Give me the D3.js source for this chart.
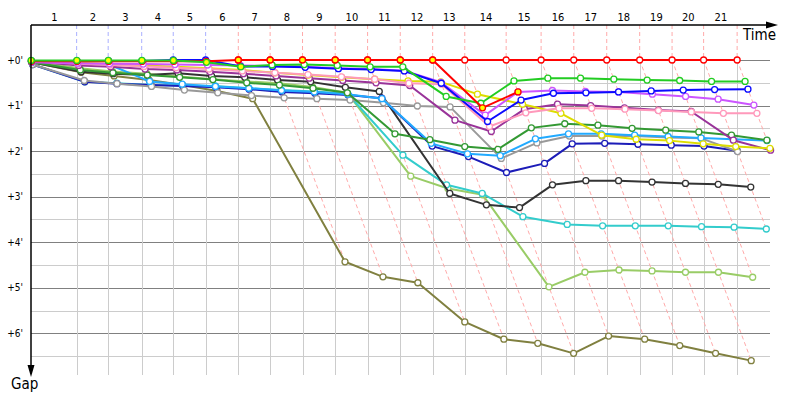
<!DOCTYPE html>
<html>
<head>
<meta charset="utf-8">
<script src="https://cdn.jsdelivr.net/npm/d3@7"></script>
<style>
  body { margin: 0; background: #fff; }
  text { font-family: Tahoma, "DejaVu Sans Condensed", "DejaVu Sans", sans-serif; }
</style>
</head>
<body>
<svg id="chart" width="800" height="400"></svg>
<script>
// leader lap times, seconds (laps 1..21)
var leaderLapSec = [162, 112, 119, 112, 115, 116, 113, 115, 116, 115, 116, 115, 114, 147, 124, 116, 117, 117, 115, 112, 119];
var lapLabels = d3.range(1, 22);
// who led each lap (1..21) -> colour of the dashed lap marks
var lapLeader = ['blue', 'blue', 'blue', 'blue', 'blue', 'red', 'red', 'red', 'red', 'red', 'red', 'red', 'red', 'red', 'red', 'red', 'red', 'red', 'red', 'red', 'red'];
var gapTicks = [0, 1, 2, 3, 4, 5, 6];

// gap to leader in minutes, laps 0..21 (null = no lap)
var gapRedA      = [0.03, 0.03, 0.03, 0.03, 0.03, 0.03, 0, 0, 0, 0, 0, 0, 0, 0, 0, 0, 0, 0, 0, 0, 0, 0];
var gapRedB      = [null, null, null, null, null, null, 0, 0, 0, 0, 0, 0, 0, 1.05, 0.70, null, null, null, null, null, null, null];
var gapGreen     = [0.01, 0.01, 0.01, 0.01, 0.01, 0.05, 0.15, 0.11, 0.10, 0.12, 0.15, 0.15, 0.80, 0.95, 0.46, 0.40, 0.40, 0.42, 0.44, 0.45, 0.47, 0.47];
var gapBlue      = [0.02, 0.02, 0.02, 0.02, 0, 0, 0.14, 0.14, 0.16, 0.19, 0.21, 0.24, 0.51, 1.35, 0.88, 0.73, 0.72, 0.70, 0.68, 0.66, 0.65, 0.64];
var gapViolet    = [0.05, 0.07, 0.08, 0.09, 0.10, 0.11, 0.12, 0.13, 0.15, 0.18, 0.20, 0.235, 0.49, 1.21, 0.70, 0.67, 0.69, 0.70, 0.75, 0.80, 0.86, 0.99];
var gapPink      = [0.03, 0.08, 0.11, 0.14, 0.17, 0.20, 0.24, 0.28, 0.32, 0.37, 0.42, 0.51, 0.53, 1.46, 1.16, 1.06, 1.06, 1.08, 1.11, 1.14, 1.17, 1.17];
var gapPurple    = [0.03, 0.12, 0.15, 0.20, 0.22, 0.26, 0.30, 0.35, 0.40, 0.45, 0.50, 0.56, 1.32, 1.57, 1.08, 0.97, 1.00, 1.05, 1.10, 1.13, 1.76, 1.98];
var gapYellow    = [0.02, 0.06, 0.09, 0.12, 0.15, 0.18, 0.22, 0.28, 0.33, 0.38, 0.42, 0.46, 0.48, 0.75, 0.97, 1.17, 1.65, 1.74, 1.77, 1.84, 1.90, 1.94];
var gapDarkGreen = [0.05, 0.22, 0.28, 0.33, 0.38, 0.43, 0.50, 0.55, 0.62, 0.72, 1.62, 1.75, 1.90, 1.96, 1.49, 1.40, 1.43, 1.50, 1.54, 1.58, 1.65, 1.76];
var gapLightBlue = [0.05, 0.08, 0.11, 0.47, 0.53, 0.58, 0.62, 0.67, 0.70, 0.75, 0.85, 1.83, 2.06, 2.10, 1.73, 1.62, 1.62, 1.65, 1.68, 1.71, 1.74, 1.77];
var gapGray      = [0.10, 0.45, 0.52, 0.58, 0.66, 0.72, 0.78, 0.83, 0.85, 0.88, 0.94, 1.01, 1.03, 2.16, 1.82, 1.67, 1.67, 1.67, 1.70, 1.72, 2.01, null];
var gapNavy      = [0.10, 0.48, 0.52, 0.55, 0.57, 0.60, 0.64, 0.70, 0.73, 0.77, 0.84, 1.89, 2.12, 2.47, 2.27, 1.84, 1.83, 1.85, 1.87, 1.89, 1.99, null];
var gapBlack     = [0.05, 0.26, 0.30, 0.33, 0.29, 0.35, 0.38, 0.44, 0.48, 0.60, 0.69, 2.93, 3.18, 3.24, 2.74, 2.65, 2.65, 2.68, 2.71, 2.73, 2.79, null];
var gapCyan      = [0.10, 0.48, 0.51, 0.55, 0.56, 0.57, 0.62, 0.66, 0.69, 0.74, 2.09, 2.74, 2.93, 3.44, 3.61, 3.64, 3.64, 3.64, 3.66, 3.67, 3.71, null];
var gapLightGreen= [0.03, 0.18, 0.25, 0.30, 0.36, 0.42, 0.47, 0.51, 0.59, 0.72, 2.55, 2.82, 2.96, 4.98, 4.66, 4.61, 4.63, 4.66, 4.66, 4.77, null, null];
var gapOlive     = [0.05, 0.27, 0.35, 0.44, 0.55, 0.68, 0.85, 4.43, 4.76, 4.89, 5.75, 6.13, 6.22, 6.44, 6.06, 6.13, 6.27, 6.44, 6.60, null, null, null];

// marked (yellow) points: [series, lap]
var marked = [['green', 0], ['green', 1], ['green', 2], ['green', 3], ['green', 4], ['green', 5], ['green', 6],
  ['navy', 1],
  ['redB', 6], ['redB', 7], ['redB', 8], ['redB', 9], ['redB', 10], ['redB', 11], ['redB', 12], ['redB', 13], ['redB', 14]];

var colors = {
  redA: '#ff0000', redB: '#ff0000', green: '#22cc22', blue: '#0a0aff', violet: '#cc55ff', pink: '#ff99bb',
  purple: '#993399', yellow: '#dddd00', darkGreen: '#339933', lightBlue: '#22aaff', gray: '#999999',
  navy: '#1c1cb8', black: '#333333', cyan: '#33cccc', lightGreen: '#99cc66', olive: '#808040'
};
var pale = { blue: '#aab0ff', red: '#ffaaaa' };

// draw order: first is at the bottom
var series = [
  { key: 'olive', gaps: gapOlive }, { key: 'lightGreen', gaps: gapLightGreen }, { key: 'cyan', gaps: gapCyan },
  { key: 'black', gaps: gapBlack }, { key: 'navy', gaps: gapNavy }, { key: 'gray', gaps: gapGray },
  { key: 'lightBlue', gaps: gapLightBlue }, { key: 'darkGreen', gaps: gapDarkGreen }, { key: 'purple', gaps: gapPurple },
  { key: 'yellow', gaps: gapYellow }, { key: 'pink', gaps: gapPink }, { key: 'violet', gaps: gapViolet },
  { key: 'blue', gaps: gapBlue }, { key: 'redA', gaps: gapRedA }, { key: 'green', gaps: gapGreen }, { key: 'redB', gaps: gapRedB }
];

// cumulative leader time (minutes) at each lap
var cum = [0];
leaderLapSec.forEach(function(s, i) { cum.push(cum[i] + s / 60); });

var svg = d3.select('#chart');
var x0 = 31, xEnd = 778, yAxisTop = 25, yZero = 60, yEnd = 377;
var x = d3.scaleLinear().domain([0, (xEnd - x0) / 16.9]).range([x0, xEnd]);
var y = d3.scaleLinear().domain([0, (yEnd - yZero) / 45.55]).range([yZero, yEnd]);

var gridRight = x.invert(770), gridBottom = y.invert(375);

// horizontal grid
var grid = svg.append('g');
grid.selectAll('line.h').data(d3.range(0, 7, 0.5)).enter().append('line')
  .attr('x1', x0).attr('x2', x(gridRight))
  .attr('y1', function(d) { return Math.round(y(d)) + 0.5; })
  .attr('y2', function(d) { return Math.round(y(d)) + 0.5; })
  .attr('stroke', function(d) { return d % 1 === 0 ? '#808080' : '#cccccc'; })
  .attr('stroke-width', 1);

// vertical grid at each leader lap
grid.selectAll('line.v').data(d3.range(1, 22)).enter().append('line')
  .attr('x1', function(k) { return Math.round(x(cum[k])) + 0.5; })
  .attr('x2', function(k) { return Math.round(x(cum[k])) + 0.5; })
  .attr('y1', y(0)).attr('y2', y(gridBottom))
  .attr('stroke', '#cccccc').attr('stroke-width', 1);

// dashed lap marks: vertical above zero line, slanted through every car of that lap
var maxGap = cum.map(function(c, k) {
  return d3.max(series, function(s) { return s.gaps[k]; });
});
var dashes = svg.append('g');
dashes.selectAll('line.vd').data(d3.range(1, 22)).enter().append('line')
  .attr('x1', function(k) { return x(cum[k]); }).attr('x2', function(k) { return x(cum[k]); })
  .attr('y1', yAxisTop).attr('y2', y(0))
  .attr('stroke', function(k) { return pale[lapLeader[k - 1]]; })
  .attr('stroke-width', 1).attr('stroke-dasharray', '4,3');
dashes.selectAll('line.sd').data(d3.range(1, 22)).enter().append('line')
  .attr('x1', function(k) { return x(cum[k]); }).attr('y1', y(0))
  .attr('x2', function(k) { return x(cum[k] + maxGap[k]); })
  .attr('y2', function(k) { return y(maxGap[k]); })
  .attr('stroke', function(k) { return pale[lapLeader[k - 1]]; })
  .attr('stroke-width', 1).attr('stroke-dasharray', '4,3');

// cars
var line = d3.line()
  .defined(function(d) { return d.gap !== null; })
  .x(function(d) { return x(cum[d.lap] + d.gap); })
  .y(function(d) { return y(d.gap); });

var isMarked = {};
marked.forEach(function(m) { isMarked[m[0] + '_' + m[1]] = true; });

series.forEach(function(s) {
  var pts = s.gaps.map(function(g, k) { return { lap: k, gap: g }; });
  var g = svg.append('g');
  g.append('path').datum(pts)
    .attr('d', line)
    .attr('fill', 'none')
    .attr('stroke', colors[s.key])
    .attr('stroke-width', 2)
    .attr('stroke-linejoin', 'round');
  g.selectAll('circle').data(pts.filter(function(p) { return p.gap !== null; })).enter()
    .append('circle')
    .attr('cx', function(d) { return x(cum[d.lap] + d.gap); })
    .attr('cy', function(d) { return y(d.gap); })
    .attr('r', 3)
    .attr('fill', function(d) { return isMarked[s.key + '_' + d.lap] ? '#ffff00' : '#ffffff'; })
    .attr('stroke', colors[s.key])
    .attr('stroke-width', 1.3);
});

// lap numbers between leader crossings
var lapMid = lapLabels.map(function(n) { return (cum[n - 1] + cum[n]) / 2; });
var topAxis = svg.append('g').attr('transform', 'translate(0,' + yAxisTop + ')')
  .call(d3.axisTop(x).tickValues(lapMid).tickSize(0).tickPadding(4)
    .tickFormat(function(d, i) { return lapLabels[i]; }));
topAxis.select('.domain').remove();
topAxis.selectAll('text').attr('font-size', 11).attr('fill', '#000')
  .style('font-family', 'Tahoma, "DejaVu Sans Condensed", "DejaVu Sans", sans-serif');

// gap labels
var leftAxis = svg.append('g').attr('transform', 'translate(' + x0 + ',0)')
  .call(d3.axisLeft(y).tickValues(gapTicks).tickSize(0).tickPadding(8)
    .tickFormat(function(d) { return '+' + d + "'"; }));
leftAxis.select('.domain').remove();
leftAxis.selectAll('text').attr('font-size', 10).attr('fill', '#000')
  .style('font-family', 'Tahoma, "DejaVu Sans Condensed", "DejaVu Sans", sans-serif');

// axis lines with arrows
var axes = svg.append('g');
axes.append('line').attr('x1', x0).attr('y1', yAxisTop).attr('x2', xEnd - 10).attr('y2', yAxisTop)
  .attr('stroke', '#000').attr('stroke-width', 1.5);
axes.append('path').attr('d', 'M' + xEnd + ',' + yAxisTop + 'L' + (xEnd - 12) + ',' + (yAxisTop - 3.5) + 'L' + (xEnd - 12) + ',' + (yAxisTop + 3.5) + 'Z')
  .attr('fill', '#000');
axes.append('line').attr('x1', x0).attr('y1', yAxisTop).attr('x2', x0).attr('y2', yEnd - 10)
  .attr('stroke', '#000').attr('stroke-width', 1.5);
axes.append('path').attr('d', 'M' + x0 + ',' + yEnd + 'L' + (x0 - 3.5) + ',' + (yEnd - 12) + 'L' + (x0 + 3.5) + ',' + (yEnd - 12) + 'Z')
  .attr('fill', '#000');

svg.append('text').attr('x', 743).attr('y', 40).attr('font-size', 15).text('Time');
svg.append('text').attr('x', 11).attr('y', 389).attr('font-size', 15).text('Gap');
</script>
</body>
</html>
